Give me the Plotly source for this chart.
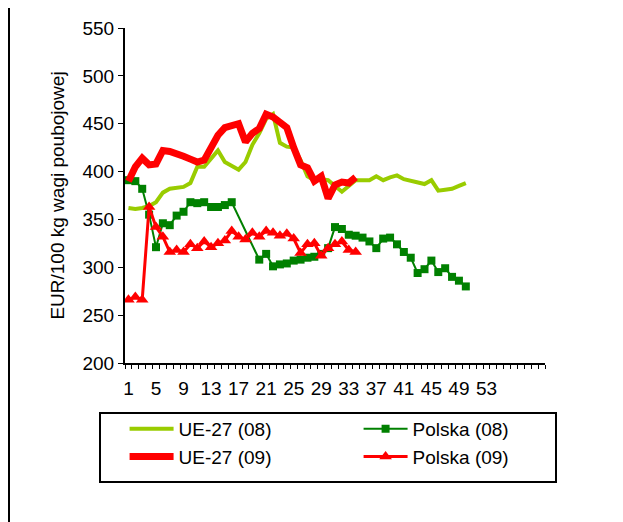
import plotly.graph_objects as go

weeks_08 = list(range(1, 51))
weeks_09 = list(range(1, 35))

ue27_08 = [362, 361, 362, 364, 368, 378, 382, 383, 384, 388,
           405, 405, 413, 422, 410, 406, 402, 410, 428, 440,
           455, 460, 430, 426, 425, 412, 395, 391, 392, 391,
           385, 379, 385, 391, 391, 391, 395, 391, 394, 396,
           392, 390, 388, 387, 391, 380, 381, 382, 385, 388]

polska_08 = [391, 390, 382, 355, 321, 346, 344, 354, 358, 368,
             367, 368, 363, 363, 365, 368, None, None, None, 308,
             314, 301, 303, 304, 307, 308, 310, 311, 314, 320,
             342, 340, 334, 333, 331, 327, 320, 330, 331, 324,
             316, 310, 294, 298, 307, 295, 299, 290, 286, 280]

ue27_09 = [390, 405, 414, 407, 408, 422, 421, 419, 416, 413,
           410, 412, 424, 438, 446, 448, 450, 431, 440, 445,
           460, 457, 452, 446, 425, 407, 404, 390, 395, 372,
           386, 389, 388, 394]

polska_09 = [266, 269, 266, 363, 342, 332, 316, 318, 316, 324,
             320, 327, 321, 325, 328, 338, 332, 329, 336, 332,
             338, 336, 333, 335, 330, 315, 324, 325, 312, 320,
             324, 327, 318, 316]

x_labels = [str(v) for v in range(1, 54, 4)]
y_ticks = list(range(200, 551, 50))
y_title = "EUR/100 kg wagi poubojowej"

FONT = "Liberation Sans, Arial, sans-serif"
FS = 19

fig = go.Figure()
fig.add_trace(go.Scatter(x=weeks_08, y=ue27_08, name="UE-27 (08)", mode="lines",
                         line=dict(color="#99CC00", width=4)))
fig.add_trace(go.Scatter(x=weeks_08, y=polska_08, name="Polska (08)", mode="lines+markers",
                         connectgaps=True,
                         line=dict(color="#008000", width=2),
                         marker=dict(symbol="square", size=8, color="#008000")))
fig.add_trace(go.Scatter(x=weeks_09, y=ue27_09, name="UE-27 (09)", mode="lines",
                         line=dict(color="#FF0000", width=7)))
fig.add_trace(go.Scatter(x=weeks_09, y=polska_09, name="Polska (09)", mode="lines+markers",
                         line=dict(color="#FF0000", width=3),
                         marker=dict(symbol="triangle-up", size=11, color="#FF0000")))

L, R, T, B = 117, 86, 20, 167
W, H = 623, 522
pw, ph = W - L - R, H - T - B

def px_x(p):
    return (p - L) / pw

def px_y(p):
    return (H - B - p) / ph

minor_vals = [i + 0.5 for i in range(0, 62)]

fig.update_layout(
    width=W, height=H,
    margin=dict(l=L, r=R, t=T, b=B, pad=0, autoexpand=False),
    paper_bgcolor="white", plot_bgcolor="white",
    font=dict(family=FONT, size=FS, color="black"),
    showlegend=True,
    legend=dict(
        orientation="h",
        x=-0.001, xanchor="left",
        y=px_y(402), yanchor="top",
        entrywidth=175,
        itemwidth=44,
        borderwidth=0,
        bgcolor="rgba(0,0,0,0)",
        font=dict(family=FONT, size=FS, color="black"),
        traceorder="normal",
    ),
    xaxis=dict(
        range=[0.5, 61.5],
        tickmode="array",
        tickvals=list(range(1, 54, 4)),
        ticktext=x_labels,
        ticks="",
        showline=True, linecolor="black", linewidth=2,
        showgrid=False, zeroline=False,
        minor=dict(tickmode="array", tickvals=minor_vals, ticks="outside",
                   ticklen=4, tickwidth=1, tickcolor="black", showgrid=False),
        ticklabelstandoff=7,
        tickfont=dict(family=FONT, size=FS),
        automargin=False,
    ),
    xaxis2=dict(
        range=[0.5, 61.5], overlaying="x", anchor="y", side="bottom",
        tickmode="array", tickvals=minor_vals, ticks="inside",
        ticklen=4, tickwidth=1, tickcolor="black",
        showticklabels=False, showline=False, showgrid=False, zeroline=False,
        automargin=False,
    ),
    yaxis=dict(
        range=[200, 550],
        tickmode="array", tickvals=y_ticks,
        ticks="outside", ticklen=5, tickwidth=1, tickcolor="black",
        showline=True, linecolor="black", linewidth=2,
        showgrid=False, zeroline=False,
        tickfont=dict(family=FONT, size=FS),
        title=dict(text=y_title, font=dict(family=FONT, size=FS), standoff=13),
        automargin=False,
    ),
    shapes=[
        dict(type="rect", xref="paper", yref="paper",
             x0=px_x(92), x1=px_x(548), y0=px_y(474), y1=px_y(405),
             line=dict(color="black", width=2), fillcolor="rgba(0,0,0,0)", layer="above"),
        dict(type="line", xref="paper", yref="paper",
             x0=px_x(1), x1=px_x(1), y0=px_y(522), y1=px_y(0),
             line=dict(color="black", width=2)),
    ],
)

fig.write_html("out.html")
